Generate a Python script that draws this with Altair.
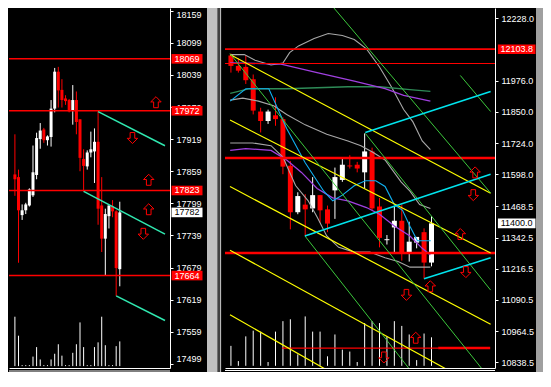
import altair as alt
import pandas as pd

# ---------------- LEFT PANEL (index, M-bars) ----------------
L_open  = [17853, 17848, 17777, 17786, 17795, 17814, 17852, 17919, 17937, 17917, 17923, 17976, 18045, 18011, 17995,
           17992, 17972, 17992, 17956, 17882, 17868, 17894, 17896, 17914, 17795, 17733, 17775, 17793, 17784, 17676]
L_high  = [17928, 17862, 17797, 17800, 17827, 17907, 17931, 17949, 17940, 17926, 17992, 18052, 18054, 18031, 18001,
           17994, 18020, 18008, 17956, 17900, 17898, 17933, 17939, 17971, 17848, 17789, 17795, 17805, 17786, 17802]
L_low   = [17813, 17688, 17768, 17779, 17793, 17811, 17844, 17901, 17912, 17907, 17905, 17969, 17978, 17978, 17983,
           17969, 17946, 17928, 17859, 17821, 17862, 17885, 17837, 17759, 17708, 17665, 17752, 17773, 17626, 17644]
L_close = [17844, 17786, 17786, 17797, 17825, 17857, 17921, 17935, 17917, 17924, 17976, 18045, 18010, 17992, 17990,
           17971, 17992, 17951, 17884, 17869, 17894, 17900, 17914, 17789, 17733, 17779, 17795, 17784, 17678, 17782]
L_vol   = [520, 320, 10, 10, 10, 100, 200, 70, 10, 10, 70, 130, 230, 110, 10,
           10, 140, 230, 460, 200, 10, 10, 200, 250, 520, 220, 10, 10, 210, 260]
L_levels = [18069, 17972, 17823, 17664]
L_last = [17782]
L_ticks = [18159, 18099, 18039, 17979, 17919, 17859, 17799, 17739, 17679, 17619, 17559, 17499]
L_seg_x1 = [23, 19, 28]
L_seg_p1 = [17970.5, 17821.4, 17626.2]
L_seg_x2 = [41.5, 41.5, 41.5]
L_seg_p2 = [17906.6, 17741.6, 17580.0]
L_arrow_x = [39, 32.5, 37, 37, 35.5]
L_arrow_p = [17988, 17921, 17843, 17788, 17742]
L_arrow_d = ["up", "down", "up", "up", "down"]

# ---------------- RIGHT PANEL ----------------
R_open  = [12078.3, 12036.1, 12032.2, 11982.3, 11851.9, 11813.5, 11836.5, 11821.2, 11633.1, 11445.0, 11475.7, 11460.4,
           11514.1, 11456.5, 11533.3, 11575.5, 11634.0, 11636.9, 11606.2, 11690.7, 11468.1, 11332.0, 11383.6, 11410.5,
           11283.8, 11322.2, 11364.4, 11241.6]
R_high  = [12086.0, 12066.8, 12078.3, 12001.5, 11867.2, 11859.5, 11909.4, 11828.8, 11652.3, 11525.6, 11518.0, 11587.0,
           11514.1, 11471.9, 11625.4, 11667.6, 11675.3, 11648.4, 11763.6, 11706.0, 11502.6, 11352.9, 11468.1, 11475.7,
           11406.6, 11345.2, 11379.8, 11429.7]
R_low   = [12009.2, 12009.2, 11963.2, 11840.3, 11767.4, 11802.0, 11794.3, 11598.6, 11375.9, 11437.0, 11349.1, 11445.0,
           11402.8, 11364.4, 11418.2, 11567.8, 11621.6, 11606.2, 11541.0, 11452.7, 11303.0, 11314.5, 11280.0, 11249.3,
           11245.5, 11299.2, 11176.4, 11226.3]
R_close = [12036.1, 12016.9, 11978.5, 11855.7, 11813.5, 11851.9, 11821.2, 11629.3, 11445.0, 11510.3, 11456.5, 11514.1,
           11452.7, 11399.0, 11587.0, 11636.9, 11630.0, 11621.6, 11690.7, 11460.4, 11341.4, 11336.0, 11410.5, 11283.8,
           11326.0, 11345.2, 11241.6, 11400.0]
R_vol   = [210, 50, 310, 370, 360, 40, 360, 470, 490, 120, 520, 360, 360, 100, 330, 170, 150, 40, 450, 470,
           450, 310, 470, 420, 330, 60, 340, 300]
R_ticks = [12228.0, 11976.0, 11850.0, 11724.0, 11598.0, 11468.5, 11342.5, 11216.5, 11090.5, 10964.5, 10838.5]
R_label = [12103.8]
R_last = [11400.0]
R_thin_levels = [12103.8, 12045.7]
R_thick_levels = [11663.8, 11280.0]
R_low_level = 10896.0
R_low_x = [6.9, 27.9, 34.9]

Y_x1 = [-0.125, -0.125, -0.125, -0.125, -0.125]
Y_p1 = [12082.1, 11817.3, 11548.7, 11291.5, 11030.5]
Y_x2 = [34.96, 34.96, 34.96, 34.96, 34.96]
Y_p2 = [11521.8, 11280.0, 10992.1, 10712.7, 10430.6]

G_x1 = [11.7, 18.09, -0.125, 9.96, 30.875]
G_p1 = [12347.0, 11763.6, 12086.0, 11349.1, 11997.7]
G_x2 = [34.96, 34.96, 34.96, 26.0, 34.96]
G_p2 = [11522.6, 11130.3, 10768.4, 10736.0, 11851.9]

C_x1 = [18.09, 9.96, 26.0]
C_p1 = [11767.4, 11349.1, 11176.4]
C_x2 = [34.96, 34.96, 34.96]
C_p2 = [11932.5, 11598.5, 11260.8]

MA_blue_j = [-0.1, 2, 5.1, 7.5, 10, 12.5, 13.7, 15, 16.6, 18.1, 19.5, 20.75, 22, 23.1, 24.1, 25.1, 26, 26.9]
MA_blue_p = [11894, 11944, 11944, 11783, 11645, 11530, 11491, 11514, 11552, 11572, 11572, 11549, 11476, 11453,
             11388, 11330, 11330, 11330]
BB_up_j = [-0.1, 1.8, 3.25, 5.4, 7, 7.9, 9.1, 11.2, 13.1, 15, 16.6, 18.25, 20, 21.6, 23.25, 24.5, 25.75, 26.85]
BB_up_p = [12082, 12082, 12059, 12040, 12048, 12090, 12117, 12147, 12167, 12159, 12143, 12105, 12032, 11952,
           11860, 11810, 11733, 11698]
BB_mid_j = [-0.1, 1.6, 3.7, 5.75, 7.5, 10, 12.9, 15.75, 17.5, 19.1, 20.75, 22.9, 24.1, 25.4, 26.85]
BB_mid_p = [11898, 11906, 11894, 11875, 11840, 11798, 11760, 11733, 11714, 11687, 11656, 11568, 11530, 11476, 11460]
BB_lo_j = [-0.1, 2.9, 5.4, 7, 8.7, 10.4, 11.6, 12.9, 14.5, 16.6, 18.7, 20.75, 22.5, 24.1, 25.75, 26.85]
BB_lo_p = [11725, 11725, 11714, 11668, 11553, 11491, 11426, 11349, 11303, 11284, 11284, 11261, 11246, 11223,
           11223, 11223]
PU1_j = [-0.1, 6.6, 11.6, 16.6, 20.75, 23.25, 26.85]
PU1_p = [12048, 12044, 12009, 11975, 11944, 11917, 11894]
PU2_j = [-0.1, 2, 5.4, 7.5, 9.5, 11.6, 13.7, 15.75, 18.25, 20, 22, 24.1, 25.75, 26.85]
PU2_p = [11695, 11702, 11695, 11656, 11606, 11541, 11503, 11491, 11464, 11437, 11389, 11349, 11299, 11272]
DG_j = [-0.1, 2.5, 7.5, 15.75, 20, 24.1, 26.85]
DG_p = [11925, 11944, 11944, 11952, 11952, 11940, 11933]

R_arrow_x = [32.875, 32.625, 30.875, 31.625, 26.84, 23.625, 24.875, 20.59]
R_arrow_p = [11606, 11514, 11357, 11203, 11146, 11111, 10938, 10858]
R_arrow_d = ["up", "down", "up", "down", "up", "down", "up", "down"]

# ---------------- layout / style ----------------
W_L, W_R, H = 161, 270, 360
FONT = "Liberation Sans"
RED = "#ff0000"
UP = "M0,-1L0.95,-0.05L0.42,-0.05L0.42,1L-0.42,1L-0.42,-0.05L-0.95,-0.05Z"
DOWN = "M0,1L0.95,0.05L0.42,0.05L0.42,-1L-0.42,-1L-0.42,0.05L-0.95,0.05Z"
BOX_L = "M-1.55,-0.48H1.55V0.48H-1.55Z"
BOX_R = "M-1.88,-0.48H1.88V0.48H-1.88Z"

XAX = alt.Axis(domainColor="white", domainWidth=1, ticks=False, labels=False, grid=False, title=None)


def yaxis(values, fmt, extent, flush):
    return alt.Axis(orient="right", values=values, format=fmt, domainColor="white", tickColor="white",
                    tickSize=3, labelColor="white", labelFont=FONT, labelFontSize=9, labelPadding=3,
                    grid=False, title=None, labelOverlap=False, labelFlush=flush,
                    minExtent=extent, maxExtent=extent)


def ohlc_df(o, h, l, c, v):
    df = pd.DataFrame({"i": list(range(len(o))), "o": o, "h": h, "l": l, "c": c, "v": v})
    df["dir"] = ["up" if cc >= oo else "down" for oo, cc in zip(o, c)]
    df["base"] = 0
    return df


def seg_df(x1, p1, x2, p2):
    return pd.DataFrame({"x1": x1, "p1": p1, "x2": x2, "p2": p2})


def build_panel(df, xs, ys, vs, yax, body, extra_layers, W):
    X = lambda f: alt.X(f, scale=xs, axis=XAX)
    Y = lambda f: alt.Y(f, scale=ys, axis=yax)
    color = alt.Color("dir:N", scale=alt.Scale(domain=["up", "down"], range=["#ffffff", RED]), legend=None)
    base = alt.Chart(df)
    vol = base.mark_rule(color="white", strokeWidth=1).encode(
        x=X("i:Q"), y=alt.Y("v:Q", scale=vs, axis=None), y2="base:Q")
    wick = base.mark_rule(strokeWidth=1, clip=True).encode(x=X("i:Q"), y=Y("l:Q"), y2="h:Q", color=color)
    bod = base.mark_bar(size=body, clip=True).encode(x=X("i:Q"), y=Y("o:Q"), y2="c:Q", color=color)
    layers = [l(X, Y) for l in extra_layers["under"]] + [wick, bod] + [l(X, Y) for l in extra_layers["over"]]
    price = alt.layer(*layers)
    return alt.layer(vol, price).resolve_scale(y="independent").properties(width=W, height=H)


def hlines(vals, width, color=RED):
    return lambda X, Y: alt.Chart(pd.DataFrame({"p": vals})).mark_rule(color=color, strokeWidth=width).encode(y=Y("p:Q"))


def segs(df, color, width):
    return lambda X, Y: alt.Chart(df).mark_rule(color=color, strokeWidth=width, clip=True).encode(
        x=X("x1:Q"), y=Y("p1:Q"), x2="x2:Q", y2="p2:Q")


def curve(js, ps, color, width=1.1):
    df = pd.DataFrame({"x": js, "p": ps, "k": list(range(len(js)))})
    return lambda X, Y: alt.Chart(df).mark_line(color=color, strokeWidth=width, clip=True).encode(
        x=X("x:Q"), y=Y("p:Q"), order="k:Q")


def arrows(xv, pv, dv):
    df = pd.DataFrame({"x": xv, "p": pv, "d": dv})
    return lambda X, Y: alt.Chart(df).mark_point(filled=False, color=RED, strokeWidth=1, size=121, opacity=1).encode(
        x=X("x:Q"), y=Y("p:Q"),
        shape=alt.Shape("d:N", scale=alt.Scale(domain=["up", "down"], range=[UP, DOWN]), legend=None))


def label_box(vals, xpos, shape, fill, txtcolor, fmt):
    df = pd.DataFrame({"p": vals})

    def f(X, Y):
        box = alt.Chart(df).mark_point(shape=shape, filled=True, size=400, opacity=1, strokeWidth=0,
                                       color=fill).encode(x=alt.value(xpos), y=Y("p:Q"))
        txt = alt.Chart(df).mark_text(font=FONT, fontSize=9, color=txtcolor, align="center",
                                      baseline="middle").encode(x=alt.value(xpos), y=Y("p:Q"),
                                                                text=alt.Text("p:Q", format=fmt))
        return alt.layer(box, txt)
    return f


def deco_rect(x1, x2, color, y2):
    return lambda X, Y: alt.Chart(pd.DataFrame({"k": [0]})).mark_rect(color=color).encode(
        x=alt.value(x1), x2=alt.value(x2), y=alt.value(0), y2=alt.value(y2))


def deco_rule(x1, x2, yv, color="white"):
    return lambda X, Y: alt.Chart(pd.DataFrame({"k": [0]})).mark_rule(color=color, strokeWidth=1).encode(
        x=alt.value(x1), x2=alt.value(x2), y=alt.value(yv))


# ---------- left ----------
left_df = ohlc_df(L_open, L_high, L_low, L_close, L_vol)
xsL = alt.Scale(domain=[-0.25, 41.5], nice=False, zero=False)
ysL = alt.Scale(domain=[17491.3, 18164], nice=False, zero=False)
vsL = alt.Scale(domain=[-20, 3770], nice=False, zero=False)
left = build_panel(
    left_df, xsL, ysL, vsL, yaxis(L_ticks, "d", 37, 6), 3,
    {"under": [],
     "over": [hlines(L_levels, 1.5),
              segs(seg_df(L_seg_x1, L_seg_p1, L_seg_x2, L_seg_p2), "#30e8b0", 1.5),
              arrows(L_arrow_x, L_arrow_p, L_arrow_d),
              label_box(L_levels, W_L + 17, BOX_L, RED, "white", "d"),
              label_box(L_last, W_L + 17, BOX_L, "white", "black", "d"),
              deco_rule(0, W_L, H + 3),
              deco_rect(W_L + 37, W_L + 47.5, "#c0c0c0", H + 4),
              deco_rect(W_L + 47.5, W_L + 48.5, "#808080", H + 4),
              deco_rect(W_L + 48.5, W_L + 50.3, "#404040", H + 4),
              deco_rect(W_L + 50.3, W_L + 51.3, "#ffffff", H + 4),
              deco_rect(W_L + 51.3, W_L + 52.3, "#000000", H + 4)]},
    W_L)

# ---------- right ----------
right_df = ohlc_df(R_open, R_high, R_low, R_close, R_vol)
xsR = alt.Scale(domain=[-0.125, 34.875], nice=False, zero=False)
ysR = alt.Scale(domain=[10815.6, 12270.2], nice=False, zero=False)
vsR = alt.Scale(domain=[-23, 3767], nice=False, zero=False)


def low_level_thin(X, Y):
    df = pd.DataFrame({"x1": [R_low_x[0]], "x2": [R_low_x[1]], "p": [R_low_level]})
    return alt.Chart(df).mark_rule(color=RED, strokeWidth=1.2).encode(x=X("x1:Q"), x2="x2:Q", y=Y("p:Q"))


def low_level_thick(X, Y):
    df = pd.DataFrame({"x1": [R_low_x[1]], "x2": [R_low_x[2]], "p": [R_low_level]})
    return alt.Chart(df).mark_rule(color=RED, strokeWidth=2.5).encode(x=X("x1:Q"), x2="x2:Q", y=Y("p:Q"))


right = build_panel(
    right_df, xsR, ysR, vsR, yaxis(R_ticks, ".1f", 40, False), 5,
    {"under": [],
     "over": [curve(BB_up_j, BB_up_p, "#a8a8a8"), curve(BB_mid_j, BB_mid_p, "#a8a8a8"),
              curve(BB_lo_j, BB_lo_p, "#a8a8a8"), curve(DG_j, DG_p, "#2e8b57", 1.3),
              curve(PU1_j, PU1_p, "#a040e0", 1.3), curve(PU2_j, PU2_p, "#a040e0", 1.3),
              curve(MA_blue_j, MA_blue_p, "#10b0f0"),
              hlines(R_thin_levels[:1], 1.7), hlines(R_thin_levels[1:], 1.1),
              hlines(R_thick_levels, 2.5), low_level_thin, low_level_thick,
              segs(seg_df(Y_x1, Y_p1, Y_x2, Y_p2), "#ffff00", 1.2),
              segs(seg_df(G_x1, G_p1, G_x2, G_p2), "#3cc83c", 1),
              segs(seg_df(C_x1, C_p1, C_x2, C_p2), "#00e5ee", 1.5),
              arrows(R_arrow_x, R_arrow_p, R_arrow_d),
              label_box(R_label, W_R + 21.7, BOX_R, RED, "white", ".1f"),
              label_box(R_last, W_R + 21.7, BOX_R, "white", "black", ".1f"),
              deco_rule(0, W_R, H + 2.5),
              deco_rect(W_R + 41, W_R + 48, "#a0a0a0", H + 4)]},
    W_R)

chart = alt.hconcat(left, right, spacing=0).properties(
    background="black", padding=0
).configure_view(stroke=None)

chart.save("out.html", embed_options={"renderer": "svg", "actions": False})
